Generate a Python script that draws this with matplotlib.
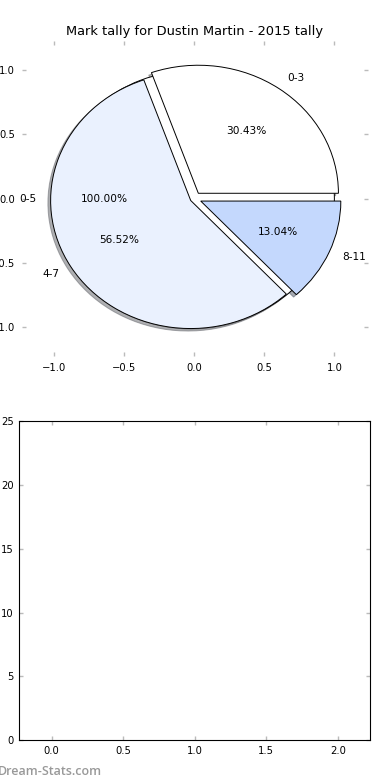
import matplotlib
matplotlib.use("Agg")
import matplotlib.pyplot as plt

# ---------------------------------------------------------
# DATA
# ---------------------------------------------------------
title = "Mark tally for Dustin Martin - 2015 tally"

total_labels = ["0-5"]
total_counts = [23]

group_labels = ["0-3", "4-7", "8-11"]
group_counts = [7, 13, 3]
group_colors = ["#ffffff", "#eaf1fe", "#c4d8fd"]
group_explode = [0.05, 0.03, 0.05]

bar_xticks = [0.0, 0.5, 1.0, 1.5, 2.0]
bar_yticks = [0, 5, 10, 15, 20, 25]

# ---------------------------------------------------------
# FIGURE
# ---------------------------------------------------------
fig = plt.figure(figsize=(3.9, 7.8), dpi=100)

tick_fs = 7.2
text_fs = 7.6
wedge_style = {"edgecolor": "black", "linewidth": 0.7}
shadow_style = {"ox": -0.014, "oy": -0.014, "shade": 0.6}

# pie axes
ax1 = fig.add_axes([0.0564, 0.5436, 0.8872, 0.4038])

ax1.pie(total_counts, labels=total_labels, colors=["#ffffff"],
        autopct="%1.2f%%", shadow=shadow_style, wedgeprops=wedge_style,
        labeldistance=1.13, pctdistance=0.64,
        textprops={"fontsize": text_fs})

ax1.pie(group_counts, labels=group_labels, colors=group_colors,
        explode=group_explode, autopct="%1.2f%%", shadow=shadow_style,
        wedgeprops=wedge_style, textprops={"fontsize": text_fs})

ax1.set_aspect("auto")
ax1.set_frame_on(False)
ax1.set_xlim(-1.23, 1.24)
ax1.set_ylim(-1.23, 1.23)
ax1.set_xticks([-1.0, -0.5, 0.0, 0.5, 1.0])
ax1.set_yticks([-1.0, -0.5, 0.0, 0.5, 1.0])
ax1.tick_params(direction="in", length=3, width=1, color="#bbbbbb",
                labelsize=tick_fs, top=True, right=True, pad=5)
ax1.set_title(title, fontsize=9.4, pad=4.5)

# empty bar axes
ax2 = fig.add_axes([0.0495, 0.0509, 0.8995, 0.4094])
ax2.set_xlim(-0.225, 2.225)
ax2.set_ylim(0, 25)
ax2.set_xticks(bar_xticks)
ax2.set_yticks(bar_yticks)
ax2.tick_params(direction="in", length=3, width=1, color="#bbbbbb",
                labelsize=tick_fs, top=True, right=True, pad=4)
for s in ax2.spines.values():
    s.set_linewidth(0.8)

# watermark
fig.text(-0.005, 0.0115, "Dream-Stats.com", fontsize=9, color="#999999",
         fontweight="semibold", family="Open Sans", va="center")

fig.savefig("out.png", dpi=100)
